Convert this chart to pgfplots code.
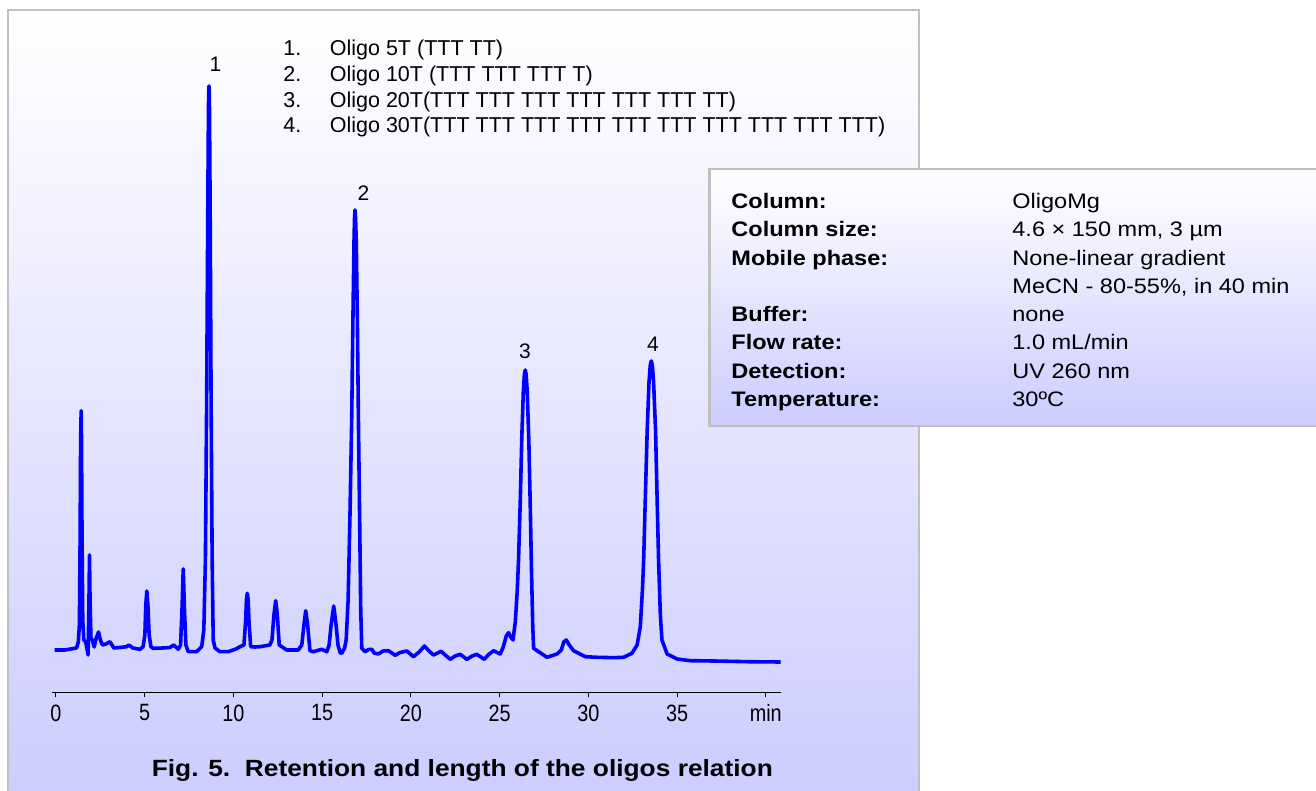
\documentclass[border=0pt]{standalone}
\usepackage{fontspec}
\setmainfont{Liberation Sans}
\usepackage{graphicx}
\usepackage{pgfplots}
\pgfplotsset{compat=1.18}
\definecolor{panelblue}{RGB}{204,204,255}
\definecolor{bordergray}{RGB}{192,192,192}
\definecolor{curveblue}{RGB}{0,0,255}
\newcommand\tl[1]{\scalebox{0.84}[1]{#1}}
\begin{document}
\begin{tikzpicture}[x=0.5pt,y=0.5pt]
\useasboundingbox (0,0) rectangle (1316,791);
\clip (0,0) rectangle (1316,791);
% panel
\shade[top color=white, bottom color=panelblue] (8,-10) rectangle (919,781);
\draw[bordergray, line width=1.1pt] (8,-10) rectangle (919,781);

\begin{axis}[
  at={(25.85pt,49.25pt)}, anchor=south west,
  x=8.875pt, y=0.5pt,
  xmin=-0.23, xmax=40.88, ymin=0, ymax=690,
  hide y axis, axis x line*=bottom,
  xtick={0,5,10,15,20,25,30,35,40},
  xticklabels={\tl{0},\tl{5},\tl{10},\tl{15},\tl{20},\tl{25},\tl{30},\tl{35},\tl{min}\hspace{4pt}},
  tick align=outside, major tick length=2.5pt,
  x axis line style={black, line width=0.6pt},
  xtick style={black, line width=0.5pt},
  xticklabel style={font=\fontsize{11.8}{13}\selectfont, text=black},
  clip=false,
]
\addplot[curveblue, line width=1.8pt, line join=round] table {
t s
-0.06 42.5
0.51 42.5
1.17 44.5
1.27 50.5
1.33 67.5
1.37 152.5
1.40 252.5
1.43 281.8
1.45 252.5
1.48 152.5
1.52 72.5
1.58 52.5
1.69 50.5
1.82 37.5
1.87 92.5
1.90 137.5
1.93 92.5
1.98 54.5
2.06 52.5
2.16 45.5
2.28 54.5
2.41 60.5
2.51 52.5
2.63 47.5
2.82 48.5
3.05 50.8
3.27 44.5
3.61 45
3.99 45.8
4.12 47.5
4.34 44.5
4.74 43.2
4.92 45.8
5.02 57.5
5.07 87.5
5.13 101.5
5.19 87.5
5.26 57.5
5.36 45.8
5.49 44.2
6.03 44.5
6.43 45
6.65 47.5
6.90 43.2
7.03 47.5
7.11 82.5
7.18 123.5
7.25 82.5
7.33 47.5
7.46 40.8
7.93 40.8
8.22 45.8
8.34 62.5
8.43 132.5
8.50 292.5
8.56 472.5
8.60 582.5
8.615 601
8.63 606.5
8.645 601
8.66 582.5
8.70 472.5
8.75 292.5
8.81 132.5
8.87 52.5
8.97 44.5
9.25 40.8
9.72 40.8
10.15 43.5
10.38 45.8
10.60 47.5
10.70 72.5
10.74 92.5
10.79 99.2
10.84 92.5
10.88 72.5
10.98 45.8
11.22 45.5
11.50 45.8
12.06 47.5
12.18 52.5
12.29 77.5
12.39 91.8
12.48 77.5
12.59 47.5
13.01 42.5
13.66 42.5
13.86 47.5
13.98 67.5
14.08 81.8
14.19 67.5
14.32 41.8
14.51 40.8
14.98 43.2
15.27 40.8
15.40 47.5
15.51 67.5
15.66 86.5
15.79 67.5
15.90 47.5
16.02 39.8
16.11 39.2
16.27 44.5
16.36 52.5
16.47 92.5
16.58 182.5
16.67 272.5
16.74 372.5
16.80 450
16.83 474
16.86 482.5
16.89 474
16.93 450
16.99 372.5
17.05 272.5
17.12 172.5
17.18 82.5
17.24 44.2
17.43 40.8
17.62 43
17.81 43.2
17.93 39.5
18.17 38.5
18.44 41.5
18.74 41.8
19.12 37.2
19.40 40
19.78 41.5
20.15 35.8
20.47 40.5
20.77 46.5
21.03 41.5
21.28 37.5
21.71 41.2
21.94 37.5
22.22 33.2
22.50 36.5
22.78 38.2
23.16 33.2
23.46 36.5
23.72 38.2
24.14 33.2
24.36 37.5
24.66 41.8
25.04 38.5
25.21 45.5
25.38 56.5
25.51 59.8
25.63 55.5
25.76 52.5
25.83 62.5
25.89 70.8
26.00 102.5
26.07 132.5
26.17 192.5
26.25 252.5
26.34 301
26.40 318
26.45 322.5
26.50 318
26.56 301
26.65 252.5
26.73 187.5
26.80 122.5
26.87 67.5
26.92 44.2
27.20 40.8
27.67 35.2
28.24 38.5
28.48 42.5
28.62 50.5
28.76 52.5
28.93 47.5
29.17 41.8
29.83 35.8
30.49 35.2
31.43 34.8
31.99 35.2
32.46 39.2
32.75 47.5
32.93 65.8
33.05 102.5
33.12 132.5
33.21 192.5
33.32 262.5
33.42 310
33.49 327
33.55 331.5
33.61 327
33.68 310
33.79 262.5
33.88 192.5
33.96 132.5
34.06 77.5
34.15 52.5
34.44 38.5
35.00 33.5
35.75 31.8
37.07 31.5
38.95 30.8
40.83 30.5
};
\end{axis}

% peak labels
\begin{scope}[every node/.style={anchor=base, inner sep=0pt, font=\fontsize{10.5}{12}\selectfont}]
\node at (215.5,719.3) {1};
\node at (363.5,590.5) {2};
\node at (525,432.5) {3};
\node at (653,439.5) {4};
\end{scope}

% legend list
\begin{scope}[every node/.style={anchor=base west, inner sep=0pt, font=\fontsize{10.75}{12}\selectfont}]
\node at (283,735) {1.};
\node at (329.5,735) {Oligo 5T (TTT TT)};
\node at (283,709.4) {2.};
\node at (329.5,709.4) {Oligo 10T (TTT TTT TTT T)};
\node at (283,683.8) {3.};
\node at (329.5,683.8) {Oligo 20T(TTT TTT TTT TTT TTT TTT TT)};
\node at (283,658.2) {4.};
\node at (329.5,658.2) {Oligo 30T(TTT TTT TTT TTT TTT TTT TTT TTT TTT TTT)};
\end{scope}

% info box
\shade[top color=white, bottom color=panelblue] (709.5,621.7) rectangle (1330,365.3);
\draw[bordergray, line width=1.1pt] (709.5,621.7) rectangle (1330,365.3);
\begin{scope}[every node/.style={anchor=base west, inner sep=0pt, font=\fontsize{10.5}{12}\selectfont}]
\node at (731,582.5) {\scalebox{1.12}[1]{\bfseries Column:}};
\node at (731,554.2) {\scalebox{1.12}[1]{\bfseries Column size:}};
\node at (731,525.9) {\scalebox{1.12}[1]{\bfseries Mobile phase:}};
\node at (731,469.3) {\scalebox{1.12}[1]{\bfseries Buffer:}};
\node at (731,441) {\scalebox{1.12}[1]{\bfseries Flow rate:}};
\node at (731,412.7) {\scalebox{1.12}[1]{\bfseries Detection:}};
\node at (731,384.4) {\scalebox{1.12}[1]{\bfseries Temperature:}};
\node at (1012,582.5) {\scalebox{1.12}[1]{OligoMg}};
\node at (1012,554.2) {\scalebox{1.12}[1]{4.6 × 150 mm, 3 µm}};
\node at (1012,525.9) {\scalebox{1.12}[1]{None-linear gradient}};
\node at (1012,497.6) {\scalebox{1.12}[1]{MeCN - 80-55\%, in 40 min}};
\node at (1012,469.3) {\scalebox{1.12}[1]{none}};
\node at (1012,441) {\scalebox{1.12}[1]{1.0 mL/min}};
\node at (1012,412.7) {\scalebox{1.12}[1]{UV 260 nm}};
\node at (1012,384.4) {\scalebox{1.12}[1]{30ºC}};
\end{scope}

% title
\node[anchor=base, inner sep=0pt, font=\fontsize{11.75}{14}\selectfont\bfseries] at (462.3,14.3) {\scalebox{1.12}[1]{Fig. 5.\ \ Retention and length of the oligos relation}};
\end{tikzpicture}
\end{document}
